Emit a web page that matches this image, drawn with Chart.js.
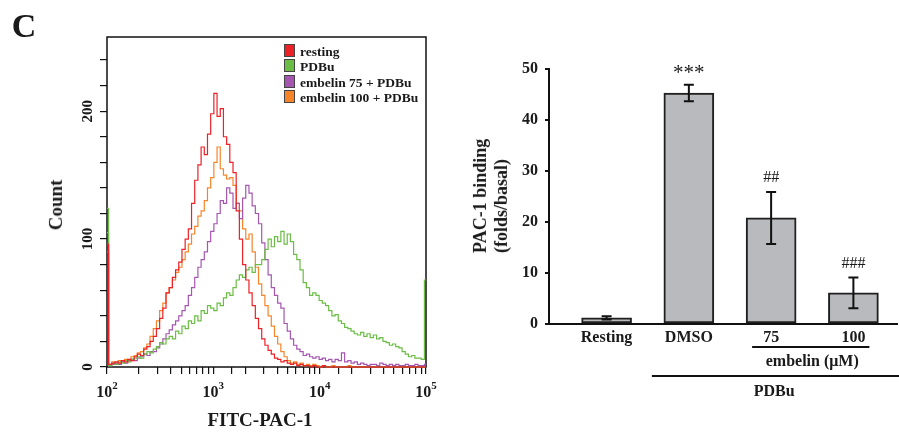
<!DOCTYPE html>
<html lang="en">
<head>
<meta charset="UTF-8">
<title>PAC-1 binding</title>
<script src="https://cdn.jsdelivr.net/npm/chart.js"></script>
<style>
  body { margin: 0; background: #fff; font-family: "Liberation Serif", "Times New Roman", serif; color: #1a1a1a; }
  #page { position: relative; width: 899px; height: 435px; overflow: hidden; }
  .panel { position: absolute; top: 0; height: 435px; }
  #histWrap { left: 0; width: 450px; }
  #barWrap { left: 450px; width: 449px; }
  .lbl { position: absolute; font-weight: bold; white-space: nowrap; transform: translate(-50%, -50%); }
  .vert { writing-mode: vertical-rl; transform: translate(-50%, -50%) rotate(180deg); }
  #legend { position: absolute; left: 284px; top: 44px; font-weight: bold; font-size: 13.5px; line-height: 15.3px; }
  #legend .sw { display: inline-block; width: 9px; height: 11px; border: 1px solid #444; margin-right: 5px; vertical-align: -1px; }
</style>
</head>
<body>
<div id="page">
  <div class="panel" id="histWrap"><canvas id="hist" width="450" height="435"></canvas></div>
  <div class="panel" id="barWrap"><canvas id="bars" width="449" height="435"></canvas></div>
  <div class="lbl" style="left:24px; top:26px; font-size:34px;">C</div>
  <div class="lbl vert" style="left:56px; top:205px; font-size:19px;">Count</div>
  <div class="lbl" style="left:260px; top:420px; font-size:19px;">FITC-PAC-1</div>
  <div class="lbl vert" style="left:491px; top:196px; font-size:18px; line-height:21px;">PAC-1 binding<br>(folds/basal)</div>
  <div id="legend"></div>
</div>

<script>
  // histogram channels (log10 of FITC-PAC-1 fluorescence)
  const channels = [
    2.00,2.03,2.06,2.09,2.12,2.15,2.18,2.21,2.24,2.27,
    2.30,2.33,2.36,2.39,2.42,2.45,2.48,2.51,2.54,2.57,
    2.60,2.63,2.66,2.69,2.72,2.75,2.78,2.81,2.84,2.87,
    2.90,2.93,2.96,2.99,3.02,3.05,3.08,3.11,3.14,3.17,
    3.20,3.23,3.26,3.29,3.32,3.35,3.38,3.41,3.44,3.47,
    3.50,3.53,3.56,3.59,3.62,3.65,3.68,3.71,3.74,3.77,
    3.80,3.83,3.86,3.89,3.92,3.95,3.98,4.01,4.04,4.07,
    4.10,4.13,4.16,4.19,4.22,4.25,4.28,4.31,4.34,4.37,
    4.40,4.43,4.46,4.49,4.52,4.55,4.58,4.61,4.64,4.67,
    4.70,4.73,4.76,4.79,4.82,4.85,4.88,4.91,4.94,4.97,
    5.00
  ];
  const resting = [
    96,2,3,4,3,5,4,6,5,8,
    10,9,14,16,20,24,30,38,46,58,
    62,70,76,82,92,100,108,128,146,158,
    172,166,182,198,214,196,202,180,174,160,
    152,122,100,80,68,58,48,38,30,22,
    17,13,10,7,6,4,5,3,2,3,
    1,2,1,1,0,1,0,0,1,0,
    0,0,0,0,0,0,0,0,0,0,
    0,0,0,0,0,0,0,0,0,0,
    0,0,0,0,0,0,0,0,0,0,
    0
  ];
  const pdbu = [
    124,1,3,2,4,3,5,4,6,7,
    8,7,10,12,11,14,16,19,18,22,
    24,22,28,26,32,30,36,34,40,36,
    44,42,48,46,44,50,48,54,58,56,
    62,68,72,70,76,78,74,80,80,84,
    92,100,94,102,98,106,96,104,98,88,
    84,76,66,62,56,58,56,52,50,48,
    44,40,41,36,34,31,30,28,26,25,
    27,24,26,23,25,22,23,20,19,17,
    18,16,15,12,10,8,9,7,7,6,
    68
  ];
  const emb75 = [
    90,1,2,3,2,4,3,5,6,5,
    7,8,10,9,12,12,15,18,22,26,
    29,33,36,40,44,48,56,62,70,78,
    84,90,98,106,112,120,130,128,140,136,
    124,128,116,132,142,136,126,120,112,97,
    84,72,62,56,50,46,34,28,22,17,
    14,12,9,10,8,7,8,6,7,5,
    6,4,6,5,11,4,5,3,4,2,
    3,2,1,2,2,1,3,2,1,2,
    1,2,1,1,2,1,1,2,1,1,
    2
  ];
  const emb100 = [
    105,2,4,3,5,4,6,5,8,9,
    11,12,15,18,24,30,36,44,50,58,
    62,68,74,78,84,90,96,104,110,118,
    122,130,140,148,160,172,155,150,147,148,
    142,128,122,108,100,104,90,78,65,56,
    48,40,32,24,18,12,8,5,3,4,
    2,3,1,2,1,2,1,0,1,0,
    0,1,0,0,0,0,1,0,0,0,
    0,0,0,0,0,0,0,0,0,0,
    0,0,0,0,0,0,0,0,0,0,
    0
  ];
  const seriesLabels = ['resting', 'PDBu', 'embelin 75 + PDBu', 'embelin 100 + PDBu'];
  const seriesColors = ['#ec2227', '#6cbd45', '#a557b0', '#f6852a'];
  const decadeExps = [2, 3, 4, 5];
  const countLabels = [0, 100, 200];

  // bar panel
  const groups = ['Resting', 'DMSO', '75', '100'];
  const binding = [1.2, 45.3, 20.8, 6.1];
  const bindingErr = [0.3, 1.6, 5.1, 3.0];
  const marks = ['', '***', '##', '###'];

  const SERIF = '"Liberation Serif", "Times New Roman", serif';
  const INK = '#1a1a1a';

  // legend
  document.getElementById('legend').innerHTML = seriesLabels.map((s, i) =>
    `<div><span class="sw" style="background:${seriesColors[i]}"></span>${s}</div>`).join('');

  const histDecor = {
    id: 'histDecor',
    beforeDatasetsDraw(chart) {
      const { ctx, chartArea: a } = chart;
      ctx.save();
      ctx.strokeStyle = '#111';
      ctx.lineWidth = 1.5;
      ctx.strokeRect(a.left, a.top, a.right - a.left, a.bottom - a.top);
      ctx.restore();
    },
    afterDraw(chart) {
      const { ctx } = chart;
      const xs = chart.scales.x, ys = chart.scales.y;
      ctx.save();
      ctx.fillStyle = INK;
      ctx.textAlign = 'left';
      ctx.textBaseline = 'alphabetic';
      decadeExps.forEach(p => {
        const x = xs.getPixelForValue(Math.pow(10, p));
        ctx.font = 'bold 16px ' + SERIF;
        const w1 = ctx.measureText('10').width;
        ctx.font = 'bold 11px ' + SERIF;
        const w2 = ctx.measureText(String(p)).width;
        const left = x - (w1 + w2) / 2;
        ctx.font = 'bold 16px ' + SERIF;
        ctx.fillText('10', left, 397);
        ctx.font = 'bold 11px ' + SERIF;
        ctx.fillText(String(p), left + w1, 389);
      });
      ctx.font = 'bold 15px ' + SERIF;
      ctx.textAlign = 'center';
      ctx.textBaseline = 'middle';
      countLabels.forEach(v => {
        const y = ys.getPixelForValue(v);
        ctx.save();
        ctx.translate(88, y);
        ctx.rotate(-Math.PI / 2);
        ctx.fillText(String(v), 0, 0);
        ctx.restore();
      });
      ctx.restore();
    }
  };

  const histSets = [resting, pdbu, emb75, emb100].map((arr, k) => ({
    label: seriesLabels[k],
    data: channels.map((c, i) => ({ x: Math.pow(10, c), y: arr[i] })),
    borderColor: seriesColors[k],
    borderWidth: 1.2,
    pointRadius: 0,
    stepped: 'middle',
    fill: false,
    clip: false
  }));

  new Chart(document.getElementById('hist'), {
    type: 'line',
    data: { datasets: histSets },
    options: {
      responsive: false,
      animation: false,
      layout: { padding: { top: 37, right: 24, left: 0, bottom: 0 } },
      plugins: { legend: { display: false }, tooltip: { enabled: false } },
      scales: {
        x: {
          type: 'logarithmic',
          min: 100, max: 100000,
          afterFit: s => { s.height = 68; },
          grid: { drawOnChartArea: false, tickLength: 7, color: '#111', lineWidth: 1.2 },
          border: { display: false },
          ticks: { autoSkip: false, callback: () => '' }
        },
        y: {
          min: 0, max: 258,
          afterFit: s => { s.width = 107; },
          afterBuildTicks: s => { s.ticks = s.ticks.filter(t => t.value % 20 === 0); },
          grid: { drawOnChartArea: false, tickLength: 7, color: '#111', lineWidth: 1.2 },
          border: { display: false },
          ticks: { stepSize: 20, callback: () => '' }
        }
      }
    },
    plugins: [histDecor]
  });

  const barDecor = {
    id: 'barDecor',
    afterDatasetsDraw(chart) {
      const { ctx } = chart;
      const xs = chart.scales.x, ys = chart.scales.y;
      ctx.save();
      ctx.strokeStyle = '#111';
      ctx.fillStyle = INK;
      ctx.lineWidth = 2;
      binding.forEach((v, i) => {
        const x = xs.getPixelForValue(i);
        const yt = ys.getPixelForValue(v + bindingErr[i]);
        const yb = ys.getPixelForValue(v - bindingErr[i]);
        ctx.beginPath();
        ctx.moveTo(x, yt); ctx.lineTo(x, yb);
        ctx.moveTo(x - 5, yt); ctx.lineTo(x + 5, yt);
        ctx.moveTo(x - 5, yb); ctx.lineTo(x + 5, yb);
        ctx.stroke();
        if (marks[i]) {
          ctx.textAlign = 'center';
          ctx.textBaseline = 'alphabetic';
          if (marks[i].startsWith('*')) {
            ctx.font = '21px ' + SERIF;
            ctx.fillText(marks[i], x, yt - 6);
          } else {
            ctx.font = '16px ' + SERIF;
            ctx.fillText(marks[i], x, yt - 10);
          }
        }
      });
      // embelin and PDBu group brackets
      const x1 = xs.getPixelForValue(1), x2 = xs.getPixelForValue(2), x3 = xs.getPixelForValue(3);
      ctx.lineWidth = 2;
      ctx.beginPath();
      ctx.moveTo(x2 - 19, 347); ctx.lineTo(x3 + 16, 347);
      ctx.moveTo(x1 - 37, 376); ctx.lineTo(chart.width, 376);
      ctx.stroke();
      ctx.font = 'bold 16px ' + SERIF;
      ctx.textAlign = 'center';
      ctx.textBaseline = 'middle';
      ctx.fillText('embelin (\u03bcM)', (x2 + x3) / 2, 362);
      ctx.fillText('PDBu', (x1 + x3) / 2 + 3, 392);
      ctx.restore();
    }
  };

  new Chart(document.getElementById('bars'), {
    type: 'bar',
    data: {
      datasets: [{
        data: binding.map((v, i) => ({ x: i, y: v })),
        backgroundColor: '#b9babd',
        borderColor: '#1f1f1f',
        borderWidth: 2,
        borderSkipped: false,
        barThickness: 50
      }]
    },
    options: {
      responsive: false,
      animation: false,
      layout: { padding: { top: 69, right: 2, left: 0, bottom: 0 } },
      plugins: { legend: { display: false }, tooltip: { enabled: false } },
      scales: {
        x: {
          type: 'linear',
          min: -0.7, max: 3.53,
          offset: false,
          afterFit: s => { s.height = 111; },
          afterBuildTicks: s => { s.ticks = groups.map((_, i) => ({ value: i })); },
          grid: { display: false, drawTicks: false },
          border: { display: true, color: '#111', width: 2 },
          ticks: {
            autoSkip: false, maxRotation: 0, padding: 4,
            color: INK, font: { family: SERIF, size: 16, weight: 'bold' },
            callback: v => groups[v]
          }
        },
        y: {
          min: 0, max: 50,
          afterFit: s => { s.width = 99; },
          grid: { drawOnChartArea: false, tickLength: 4, color: '#111', lineWidth: 2 },
          border: { display: true, color: '#111', width: 2 },
          ticks: {
            stepSize: 10, padding: 7,
            color: INK, font: { family: SERIF, size: 16, weight: 'bold' }
          }
        }
      }
    },
    plugins: [barDecor]
  });
</script>
</body>
</html>
